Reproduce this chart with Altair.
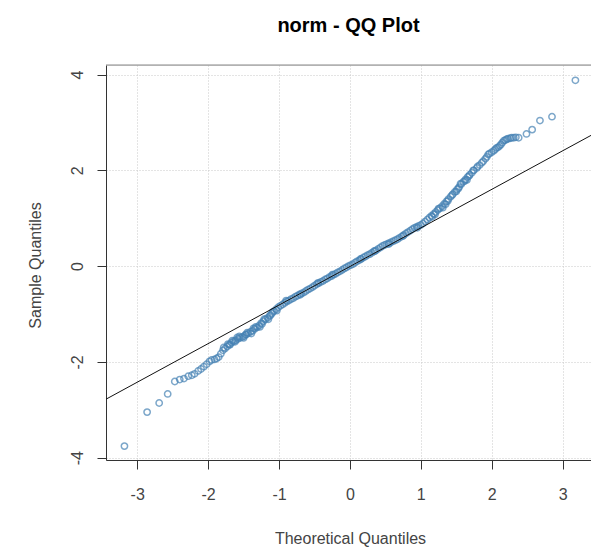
import altair as alt
import pandas as pd

# Theoretical quantiles (x) and sample quantiles (y)
theoretical = [
    -3.18, -2.86, -2.69, -2.57, -2.47, -2.40, -2.34, -2.28, -2.23, -2.19,
    -2.14, -2.10, -2.06, -2.02, -1.98, -1.95, -1.91, -1.88, -1.85, -1.82,
    -1.79, -1.76, -1.73, -1.70, -1.67, -1.64, -1.61, -1.58, -1.55, -1.52,
    -1.49, -1.46, -1.43, -1.40, -1.37, -1.34, -1.31, -1.28, -1.25, -1.22,
    -1.19, -1.16, -1.13, -1.10, -1.07, -1.04, -1.01, -0.98, -0.95, -0.92,
    -0.89, -0.86, -0.83, -0.80, -0.77, -0.74, -0.71, -0.68, -0.65, -0.62,
    -0.59, -0.56, -0.53, -0.50, -0.47, -0.44, -0.41, -0.38, -0.35, -0.32,
    -0.29, -0.26, -0.23, -0.20, -0.17, -0.14, -0.11, -0.08, -0.05, -0.02,
    0.01, 0.04, 0.07, 0.10, 0.13, 0.16, 0.19, 0.22, 0.25, 0.28,
    0.31, 0.34, 0.37, 0.40, 0.43, 0.46, 0.49, 0.52, 0.55, 0.58,
    0.61, 0.64, 0.67, 0.70, 0.73, 0.76, 0.79, 0.82, 0.85, 0.88,
    0.91, 0.94, 0.97, 1.00, 1.03, 1.06, 1.09, 1.12, 1.15, 1.18,
    1.21, 1.24, 1.27, 1.30, 1.33, 1.36, 1.39, 1.42, 1.45, 1.48,
    1.51, 1.54, 1.57, 1.60, 1.63, 1.66, 1.69, 1.72, 1.75, 1.79,
    1.83, 1.86, 1.91, 1.95, 2.00, 2.05, 2.09, 2.13, 2.17, 2.21,
    2.26, 2.31, 2.38, 2.49, 2.57, 2.68, 2.85, 3.18,
    -1.72, -1.66, -1.62, -1.56, -1.50, -1.45, -1.39, -1.33, -1.27, -1.21,
    -1.15, -1.09, -1.03, -1.78, -1.69, -1.59, -1.47, -1.36, -1.24, -1.12,
    -0.90, -0.70, -0.45, -0.25, 0.15, 0.35, 0.55, 0.75, 0.95,
    1.16, 1.25, 1.31, 1.38, 1.44, 1.50, 1.56, 1.62, 1.68, 1.74,
    1.80, 1.88, 1.93, 1.97, 2.03, 2.07, 2.11, 2.15, 2.19, 2.23,
    2.28, 2.34, 1.20, 1.35, 1.53, 1.65,
]
sample = [
    -3.76, -3.05, -2.86, -2.67, -2.41, -2.37, -2.35, -2.30, -2.28, -2.25,
    -2.19, -2.15, -2.10, -2.05, -1.99, -1.96, -1.95, -1.93, -1.90, -1.83,
    -1.76, -1.72, -1.68, -1.64, -1.60, -1.57, -1.55, -1.52, -1.50, -1.48,
    -1.46, -1.43, -1.40, -1.37, -1.35, -1.31, -1.28, -1.24, -1.19, -1.15,
    -1.11, -1.08, -1.04, -0.99, -0.94, -0.90, -0.86, -0.83, -0.80, -0.77,
    -0.74, -0.72, -0.69, -0.67, -0.64, -0.62, -0.59, -0.57, -0.55, -0.52,
    -0.49, -0.47, -0.44, -0.41, -0.38, -0.36, -0.33, -0.31, -0.28, -0.26,
    -0.23, -0.21, -0.18, -0.16, -0.13, -0.11, -0.08, -0.05, -0.03, 0.00,
    0.02, 0.04, 0.07, 0.10, 0.12, 0.15, 0.18, 0.20, 0.23, 0.25,
    0.28, 0.31, 0.33, 0.36, 0.39, 0.42, 0.44, 0.46, 0.48, 0.50,
    0.52, 0.54, 0.56, 0.59, 0.62, 0.65, 0.68, 0.71, 0.74, 0.77,
    0.80, 0.82, 0.84, 0.86, 0.89, 0.93, 0.97, 1.01, 1.05, 1.09,
    1.13, 1.17, 1.21, 1.25, 1.30, 1.35, 1.40, 1.45, 1.50, 1.55,
    1.60, 1.65, 1.71, 1.76, 1.81, 1.86, 1.91, 1.95, 2.00, 2.05,
    2.11, 2.16, 2.24, 2.33, 2.38, 2.44, 2.48, 2.54, 2.62, 2.65,
    2.67, 2.68, 2.68, 2.76, 2.85, 3.04, 3.12, 3.88,
    -1.63, -1.56, -1.58, -1.47, -1.50, -1.39, -1.41, -1.27, -1.27, -1.11,
    -1.11, -0.96, -0.93, -1.70, -1.64, -1.49, -1.43, -1.30, -1.21, -1.02,
    -0.72, -0.60, -0.35, -0.18, 0.15, 0.31, 0.46, 0.63, 0.80,
    1.03, 1.20, 1.22, 1.36, 1.48, 1.56, 1.72, 1.78, 1.88, 2.00,
    2.08, 2.19, 2.28, 2.35, 2.41, 2.47, 2.51, 2.58, 2.63, 2.66,
    2.68, 2.69, 1.08, 1.29, 1.62, 1.80,
]

# Reference line end points (qqline)
line_x = [-3.44, 3.40]
line_y = [-2.78, 2.73]

x_ticks = [-3, -2, -1, 0, 1, 2, 3]
y_ticks = [-4, -2, 0, 2, 4]

W, H = 485, 395
FONT = "Liberation Sans"

pts = pd.DataFrame({"x": theoretical, "y": sample})
ln = pd.DataFrame({"x": line_x, "y": line_y})

xs = alt.Scale(domain=[-3.44, 3.40], nice=False, zero=False)
ys = alt.Scale(domain=[-4.05, 4.20], nice=False, zero=False)

lab = "datum.value < 0 ? '-' + abs(datum.value) : '' + datum.value"

x_axis = alt.Axis(
    values=x_ticks, title="Theoretical Quantiles", grid=True,
    gridDash=[1, 2], gridColor="#c8c8c8", gridWidth=1,
    tickSize=9, tickColor="#333333", domainColor="#333333",
    labelFont=FONT, labelFontSize=16, labelColor="#444444",
    labelPadding=25, labelBaseline="middle", labelExpr=lab,
    labelFlush=False, labelOverlap=False,
    titleFont=FONT, titleFontSize=16, titleColor="#444444",
    titleFontWeight="normal", titleX=244, titleY=78,
    titleAlign="center", titleBaseline="middle",
)
y_axis = alt.Axis(
    values=y_ticks, title="Sample Quantiles", grid=True,
    gridDash=[1, 2], gridColor="#c8c8c8", gridWidth=1,
    tickSize=9, tickColor="#333333", domainColor="#333333",
    labelFont=FONT, labelFontSize=16, labelColor="#444444",
    labelAngle=-90, labelAlign="center", labelBaseline="middle",
    labelPadding=20, labelExpr=lab, labelFlush=False, labelOverlap=False,
    titleFont=FONT, titleFontSize=16, titleColor="#444444",
    titleFontWeight="normal", titleAngle=-90, titleX=-71, titleY=200,
    titleAlign="center", titleBaseline="middle",
)

points = alt.Chart(pts).mark_point(
    shape="circle", filled=False, size=40, strokeWidth=1.5, color="#4682B4"
).encode(
    x=alt.X("x:Q", scale=xs, axis=x_axis),
    y=alt.Y("y:Q", scale=ys, axis=y_axis),
)

qqline = alt.Chart(ln).mark_line(color="#111111", strokeWidth=1, clip=True).encode(
    x=alt.X("x:Q", scale=xs),
    y=alt.Y("y:Q", scale=ys),
)

top_border = alt.Chart(pd.DataFrame({"a": [0]})).mark_rule(
    color="#888888", strokeWidth=1
).encode(x=alt.value(0), x2=alt.value(W), y=alt.value(0))

chart = alt.layer(points, qqline, top_border).properties(
    width=W, height=H,
    title=alt.TitleParams(
        "norm - QQ Plot", font=FONT, fontSize=20, fontWeight="bold",
        color="black", anchor="middle", frame="group", offset=13,
        baseline="alphabetic",
    ),
    autosize=alt.AutoSizeParams(type="none"),
    padding={"left": 106, "top": 65, "right": 0, "bottom": 88},
).configure_view(stroke=None).configure(background="white")

chart.save("out.html", embed_options={"renderer": "svg", "actions": False})
